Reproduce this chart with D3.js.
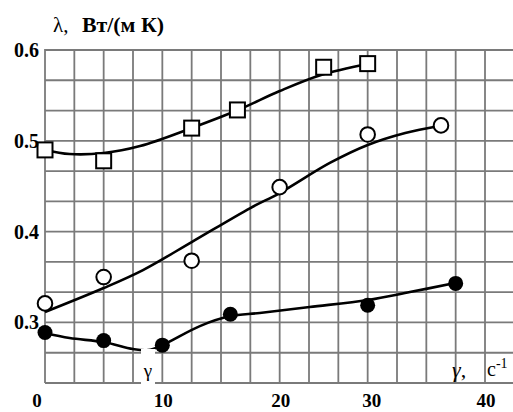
<!DOCTYPE html>
<html>
<head>
<meta charset="utf-8">
<script src="https://cdn.jsdelivr.net/npm/d3@7"></script>
<style>
  html, body { margin: 0; padding: 0; background: #fff; }
  svg { display: block; }
  text { font-family: "Liberation Serif", "DejaVu Serif", "Times New Roman", Times, serif; }
</style>
</head>
<body>
<svg id="chart" width="513" height="412"></svg>
<script>
// Tick labels
const xTicks = [0, 10, 20, 30, 40];
const yTicks = [0.3, 0.4, 0.5, 0.6];

// Measured points: squares, open circles, filled circles  [shear rate, conductivity]
const squareX = [0, 5, 12.5, 16.4, 25, 30];
const squareY = [0.490, 0.478, 0.514, 0.534, 0.581, 0.585];
const openX = [0, 5, 12.5, 20, 30, 36.25];
const openY = [0.321, 0.350, 0.368, 0.449, 0.507, 0.517];
const filledX = [0, 5, 10, 15.8, 30, 37.5];
const filledY = [0.289, 0.280, 0.275, 0.309, 0.319, 0.343];

// Smoothed fit curves drawn through the points
const squareFitX = [0, 2.1, 5, 8.1, 12.5, 16.45, 20, 24.7, 30];
const squareFitY = [0.490, 0.4855, 0.4866, 0.4943, 0.5141, 0.5339, 0.5548, 0.5725, 0.5846];
const openFitX = [0, 5, 8.35, 12.5, 17.5, 20, 25.7, 30, 33.2, 36.1];
const openFitY = [0.3115, 0.3379, 0.3577, 0.3885, 0.426, 0.4425, 0.4756, 0.4954, 0.5086, 0.5163];
const filledFitX = [0, 2.1, 5, 7.5, 8.8, 10, 13.2, 15.8, 18.3, 23.4, 30, 33.6, 37.45];
const filledFitY = [0.2883, 0.2828, 0.2784, 0.2707, 0.2696, 0.2751, 0.296, 0.307, 0.3104, 0.317, 0.3247, 0.3335, 0.3434];

// Layout
const plotLeft = 45, plotRight = 485, plotTop = 50, plotBottom = 383, gridRight = 513;
const nCols = 15;                    // vertical grid cells
const tickCells = [0, 4, 8, 11, 15]; // grid line that carries each x tick label
const yMin = 0.7 / 3, yMax = 0.6, yStep = 1 / 30;

const svg = d3.select("#chart");

const cellX = d3.scaleLinear().domain([0, nCols]).range([plotLeft, plotRight]);
const x = d3.scaleLinear().domain(xTicks).range(tickCells.map(cellX));
const y = d3.scaleLinear().domain([yMin, yMax]).range([plotBottom, plotTop]);

const zip = (xs, ys) => xs.map((v, i) => [v, ys[i]]);

// Grid
const grid = svg.append("g").attr("stroke", "#7a7a7a").attr("stroke-width", 1.8);
d3.range(nCols + 1).forEach(i => {
  grid.append("line")
    .attr("x1", cellX(i)).attr("x2", cellX(i))
    .attr("y1", plotTop - 1).attr("y2", plotBottom);
});
const nRows = Math.round((yMax - yMin) / yStep);
d3.range(nRows + 1).forEach(i => {
  const v = yMax - i * yStep;
  grid.append("line")
    .attr("x1", plotLeft).attr("x2", gridRight)
    .attr("y1", y(v)).attr("y2", y(v));
});

// Fit curves
const line = d3.line()
  .x(d => x(d[0])).y(d => y(d[1]))
  .curve(d3.curveCatmullRom.alpha(0.5));

[[squareFitX, squareFitY], [openFitX, openFitY], [filledFitX, filledFitY]].forEach(([xs, ys]) => {
  svg.append("path")
    .attr("d", line(zip(xs, ys)))
    .attr("fill", "none")
    .attr("stroke", "#000")
    .attr("stroke-width", 2.6);
});

// Markers
const sq = 15;
svg.append("g").selectAll("rect")
  .data(zip(squareX, squareY)).join("rect")
  .attr("x", d => x(d[0]) - sq / 2).attr("y", d => y(d[1]) - sq / 2)
  .attr("width", sq).attr("height", sq)
  .attr("fill", "#fff").attr("stroke", "#000").attr("stroke-width", 2);

svg.append("g").selectAll("circle")
  .data(zip(openX, openY)).join("circle")
  .attr("cx", d => x(d[0])).attr("cy", d => y(d[1])).attr("r", 7.3)
  .attr("fill", "#fff").attr("stroke", "#000").attr("stroke-width", 2);

svg.append("g").selectAll("circle")
  .data(zip(filledX, filledY)).join("circle")
  .attr("cx", d => x(d[0])).attr("cy", d => y(d[1])).attr("r", 7.5)
  .attr("fill", "#000");

// Tick labels
svg.append("g").selectAll("text")
  .data(yTicks).join("text")
  .attr("x", 39).attr("y", d => y(d) + 7)
  .attr("text-anchor", "end")
  .attr("font-weight", "bold").attr("font-size", 20)
  .text(d => d.toFixed(1));

svg.append("g").selectAll("text")
  .data(xTicks).join("text")
  .attr("x", (d, i) => x(d) + (i === 0 ? -8 : i === 3 ? 4 : 1))
  .attr("y", 407)
  .attr("text-anchor", "middle")
  .attr("font-weight", "bold").attr("font-size", 19)
  .text(d => d);

// Y axis title
const yTitle = svg.append("text")
  .attr("x", 53).attr("y", 32)
  .attr("font-size", 21);
yTitle.append("tspan").text("λ,");
yTitle.append("tspan").attr("x", 82).attr("font-weight", "bold")
  .attr("textLength", 82).attr("lengthAdjust", "spacingAndGlyphs")
  .text("Вт/(м К)");

// Gamma marker on the lower curve, on a white patch
svg.append("rect")
  .attr("x", 141).attr("y", 349).attr("width", 14).attr("height", 36)
  .attr("fill", "#fff");
svg.append("text")
  .attr("x", 148).attr("y", 377)
  .attr("text-anchor", "middle")
  .attr("font-size", 19)
  .text("γ");

// X axis title
const xTitle = svg.append("text")
  .attr("x", 452).attr("y", 377)
  .attr("font-size", 22);
xTitle.append("tspan").attr("font-style", "italic").text("γ");
xTitle.append("tspan").text(",");
xTitle.append("tspan").attr("x", 487).attr("y", 376).attr("font-size", 20).text("с");
xTitle.append("tspan").attr("font-size", 14).attr("dy", -8).text("-1");
</script>
</body>
</html>
